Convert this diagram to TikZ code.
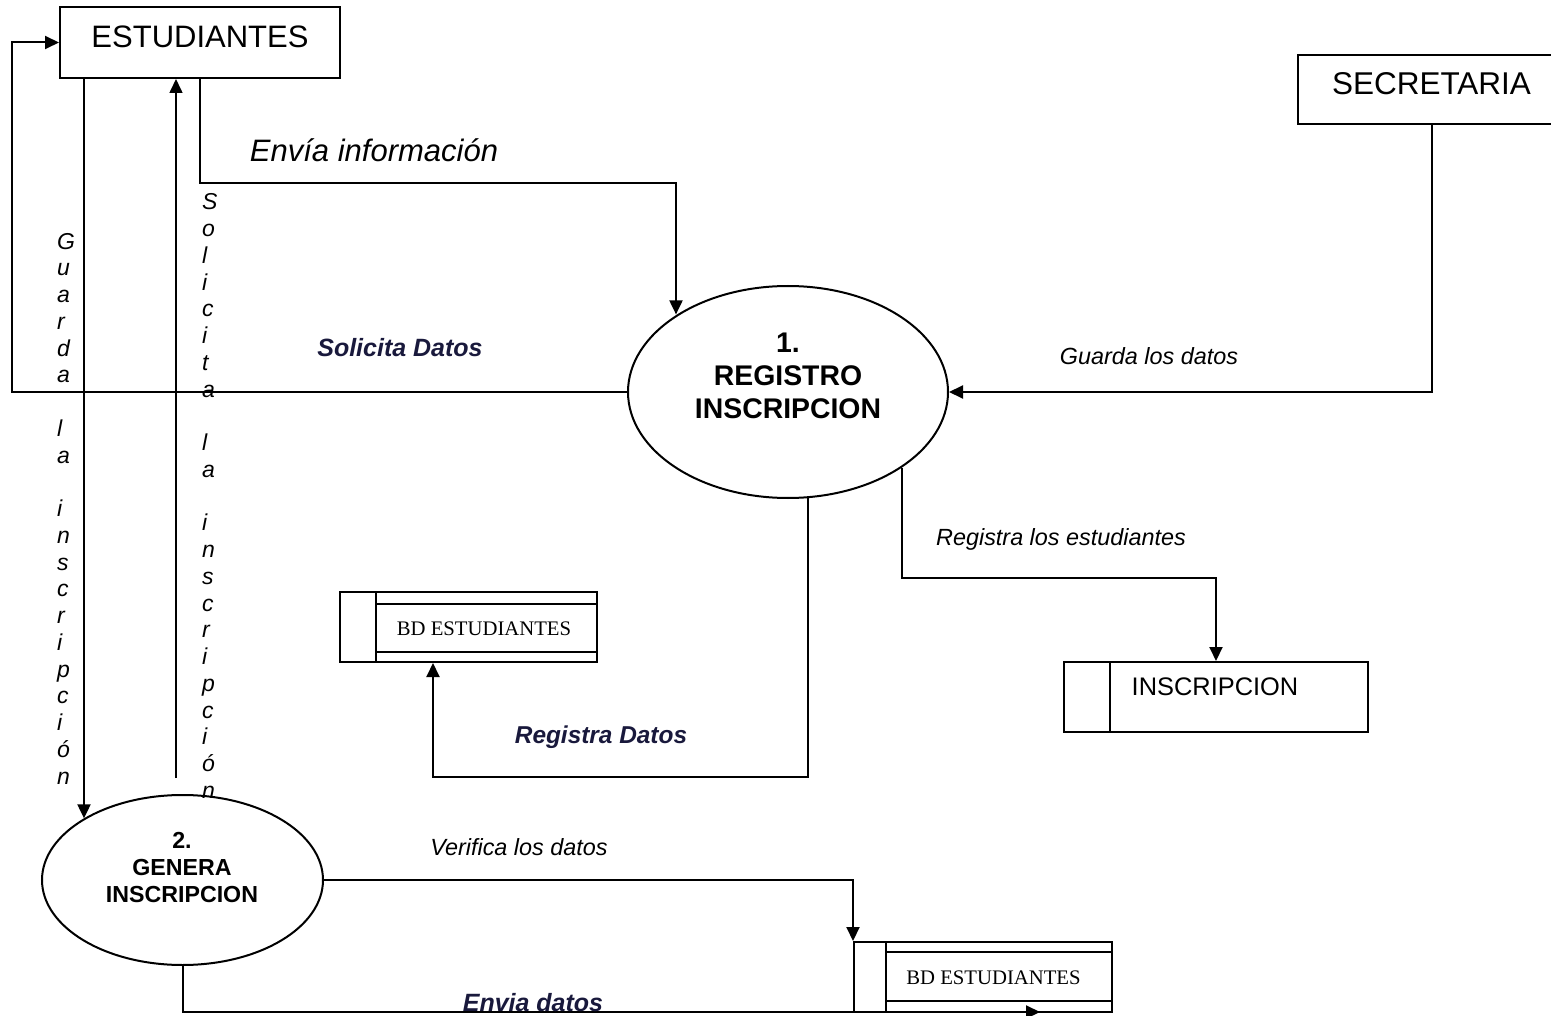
\documentclass[tikz,border=0pt]{standalone}
\usepackage{fontspec}
\setmainfont{Liberation Sans}
\newfontfamily\timesfont{Liberation Serif}
\usetikzlibrary{shapes.geometric,arrows.meta}
\definecolor{navytext}{RGB}{25,25,60}
\begin{document}
\begin{tikzpicture}[x=1pt,y=-1pt,line width=2pt,
  entity/.style={draw,rectangle,inner sep=0pt,font=\fontsize{31}{37}\selectfont},
  proc/.style={draw,ellipse,inner sep=0pt},
  proctext/.style={inner sep=0pt,align=center},
  store/.style={draw,rectangle,inner sep=0pt},
  storetext/.style={inner sep=0pt,anchor=base,font=\timesfont\fontsize{20.7}{24}\selectfont},
  flow/.style={-{Triangle[width=13pt,length=14pt]}},
  lbl/.style={inner sep=0pt,anchor=base,font=\itshape\fontsize{23.4}{28}\selectfont},
  blbl/.style={inner sep=0pt,anchor=base,text=navytext,font=\bfseries\itshape\fontsize{25}{30}\selectfont},
  vlbl/.style={inner sep=0pt,anchor=west,align=left,font=\itshape\fontsize{23}{26.75}\selectfont}]
\useasboundingbox (0,0) rectangle (1551,1016);

% external entities
\node[entity,minimum width=280pt,minimum height=71pt,text height=22pt,text depth=12pt] (est) at (200,42.5) {ESTUDIANTES};
\node[entity,minimum width=267pt,minimum height=69pt,text height=22pt,text depth=11pt,font=\fontsize{31.5}{37}\selectfont] (sec) at (1431.5,89.5) {SECRETARIA};

% processes
\node[proc,minimum width=320pt,minimum height=212pt] (p1) at (788,392) {};
\node[proctext,font=\bfseries\fontsize{28.4}{33}\selectfont] (p1t) at (788,375.5) {1.\\REGISTRO\\INSCRIPCION};
\node[proc,minimum width=281pt,minimum height=170pt] (p2) at (182.5,880) {};
\node[proctext,font=\bfseries\fontsize{23.2}{27}\selectfont] (p2t) at (182,868) {2.\\GENERA\\INSCRIPCION};

% data stores
\node[store,minimum width=257pt,minimum height=70pt] (s1) at (468.5,627) {};
\draw ([xshift=37pt]s1.north west) -- ([xshift=37pt]s1.south west);
\draw ([xshift=37pt,yshift=-13pt]s1.north west) -- ([yshift=-13pt]s1.north east);
\draw ([xshift=37pt,yshift=11pt]s1.south west) -- ([yshift=11pt]s1.south east);
\node[storetext] (s1t) at (484,635) {BD ESTUDIANTES};

\node[store,minimum width=258pt,minimum height=70pt] (s2) at (983,977) {};
\draw ([xshift=33pt]s2.north west) -- ([xshift=33pt]s2.south west);
\draw ([xshift=33pt,yshift=-11pt]s2.north west) -- ([yshift=-11pt]s2.north east);
\draw ([xshift=33pt,yshift=12pt]s2.south west) -- ([yshift=12pt]s2.south east);
\node[storetext] (s2t) at (993.5,984) {BD ESTUDIANTES};

\node[store,minimum width=304pt,minimum height=70pt] (s3) at (1216,697) {};
\draw ([xshift=47pt]s3.north west) -- ([xshift=47pt]s3.south west);
\node[inner sep=0pt,anchor=base,font=\fontsize{25.4}{30}\selectfont] (s3t) at (1215,695) {INSCRIPCION};

% helper coordinates
\coordinate (c1) at (676,183);
\coordinate (c4) at (176,778);
\coordinate (c5) at (902,578);
\coordinate (c6) at (808,777);
\coordinate (c8) at (1040,1012);

% flows
\draw[flow] (est.south) |- (c1) -- (c1 |- p1.145.95);
\draw[flow] (p1.west) -- (12,392) |- (est.west);
\draw[flow] ([xshift=-116pt]est.south) -- ([xshift=-116pt]est.south |- p2.148.4);
\draw[flow,line width=1.6pt] (c4) -- (c4 |- est.south);
\draw[flow] (sec.south) |- (p1.east);
\draw[flow] (c5 |- p1.326.9) -- (c5) -| (s3.north);
\draw[flow] (c6 |- p1.280.8) -- (c6) -| ([xshift=-35.5pt]s1.south);
\draw[flow] (p2.east) -| (s2.north west);
\draw[flow] (p2.south) |- (c8);

% labels
\node[lbl,font=\itshape\fontsize{31}{37}\selectfont] (l1) at (374,162) {Envía información};
\node[blbl] (l2) at (400,357) {Solicita Datos};
\node[lbl] (l3) at (1149,365) {Guarda los datos};
\node[lbl] (l4) at (1061,545) {Registra los estudiantes};
\node[blbl,font=\bfseries\itshape\fontsize{24.4}{29}\selectfont] (l5) at (601,743) {Registra Datos};
\node[lbl] (l6) at (519,855) {Verifica los datos};
\node[blbl] (l7) at (533,1011) {Envia datos};
\node[vlbl] (vg) at (56,508.5) {G\\u\\a\\r\\d\\a\\[26.75pt]l\\a\\[26.75pt]i\\n\\s\\c\\r\\i\\p\\c\\i\\ó\\n};
\node[vlbl] (vs) at (201,496) {S\\o\\l\\i\\c\\i\\t\\a\\[26.75pt]l\\a\\[26.75pt]i\\n\\s\\c\\r\\i\\p\\c\\i\\ó\\n};
\end{tikzpicture}
\end{document}
